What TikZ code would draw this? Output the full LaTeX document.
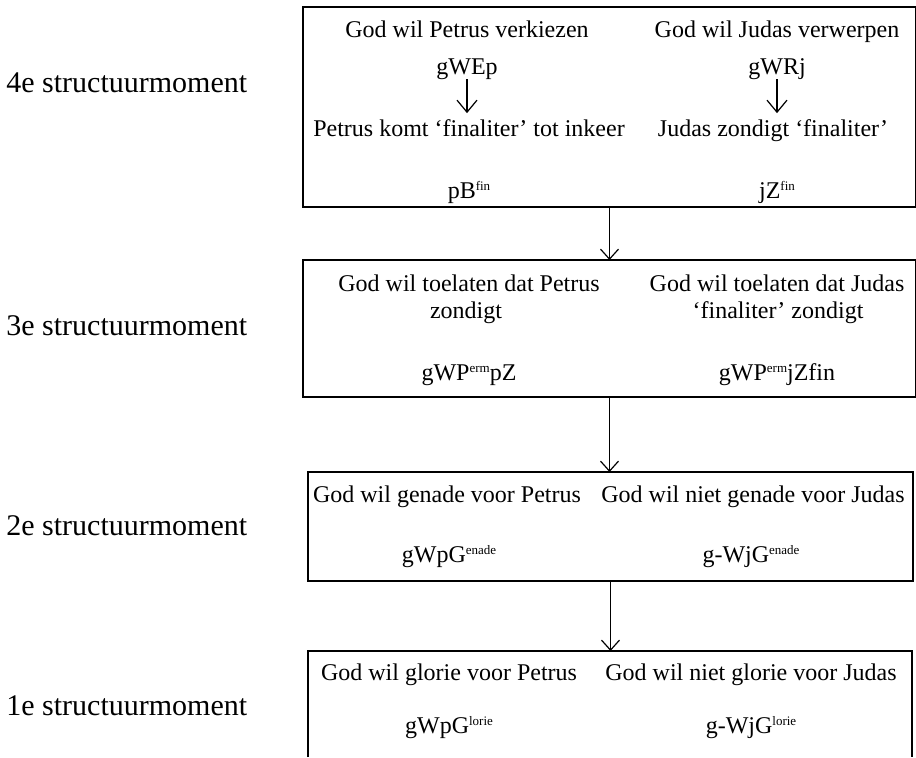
\documentclass[tikz,border=0pt]{standalone}
\usepackage{fontspec}
\setmainfont{Liberation Serif}
\usetikzlibrary{arrows.meta}
\newcommand{\sps}[1]{\raisebox{3.6pt}{\fontsize{6.5}{7}\selectfont #1}}
\begin{document}
\begin{tikzpicture}[x=0.5pt,y=-0.5pt,
  boxst/.style={draw, line width=0.6pt, inner sep=0pt, outer sep=0pt},
  openbox/.style={inner sep=0pt, outer sep=0pt},
  txt/.style={font=\fontsize{12}{13.5}\selectfont, inner sep=0pt, outer sep=0pt, anchor=base},
  lbl/.style={font=\fontsize{15}{18}\selectfont, inner sep=0pt, anchor=base west},
  arr/.style={line width=0.6pt, -{Straight Barb[length=5pt,width=9pt]}},
  sarr/.style={line width=0.6pt, -{Straight Barb[length=6pt,width=10pt]}}
]
\useasboundingbox (0,0) rectangle (916,757);

% boxes
\node[boxst, minimum width=306.5pt, minimum height=100pt] (box4) at (609.5,107) {};
\node[boxst, minimum width=306.5pt, minimum height=68.5pt] (box3) at (609.5,328.5) {};
\node[boxst, minimum width=302.5pt, minimum height=54.5pt] (box2) at (610.5,526.5) {};
\node[openbox, minimum width=302pt, minimum height=53pt] (box1) at (610,704) {};
\draw[line width=0.6pt] (box1.south west) -- (box1.north west) -- (box1.north east) -- (box1.south east);

% labels
\node[lbl] (l4) at (6,92) {4e structuurmoment};
\node[lbl] (l3) at (6,335) {3e structuurmoment};
\node[lbl] (l2) at (6,535) {2e structuurmoment};
\node[lbl] (l1) at (6,715) {1e structuurmoment};

% box 4
\node[txt] (t4a) at (467,37) {God wil Petrus verkiezen};
\node[txt] (t4b) at (467,74) {gWEp};
\node[txt] (t4c) at (469,136) {Petrus komt ‘finaliter’ tot inkeer};
\node[txt] (t4d) at (469,198) {pB\sps{fin}};
\node[txt] (t4e) at (777,37) {God wil Judas verwerpen};
\node[txt] (t4f) at (777,74) {gWRj};
\node[txt] (t4g) at (773,136) {Judas zondigt ‘finaliter’};
\node[txt] (t4h) at (777,198) {jZ\sps{fin}};
\draw[sarr, shorten >=3pt] (t4b.south) -- (t4b.south |- t4c.north);
\draw[sarr, shorten >=3pt] (t4f.south) -- (t4f.south |- t4g.north);

% box 3
\node[txt] (t3a) at (469,291) {God wil toelaten dat Petrus};
\node[txt] (t3b) at (466,318) {zondigt};
\node[txt] (t3c) at (469,380) {gWP\sps{erm}pZ};
\node[txt] (t3d) at (777,291) {God wil toelaten dat Judas};
\node[txt] (t3e) at (778,318) {‘finaliter’ zondigt};
\node[txt] (t3f) at (777,380) {gWP\sps{erm}jZfin};

% box 2
\node[txt] (t2a) at (447,502) {God wil genade voor Petrus};
\node[txt] (t2b) at (449,562) {gWpG\sps{enade}};
\node[txt] (t2c) at (753,502) {God wil niet genade voor Judas};
\node[txt] (t2d) at (751,562) {g-WjG\sps{enade}};

% box 1
\node[txt] (t1a) at (449,680) {God wil glorie voor Petrus};
\node[txt] (t1b) at (449,733) {gWpG\sps{lorie}};
\node[txt] (t1c) at (751,680) {God wil niet glorie voor Judas};
\node[txt] (t1d) at (751,733) {g-WjG\sps{lorie}};

% main arrows
\draw[arr] (box4.south) -- (box3.north);
\draw[arr] (box3.south) -- (box3.south |- box2.north);
\draw[arr] (box2.south) -- (box2.south |- box1.north);
\end{tikzpicture}
\end{document}
